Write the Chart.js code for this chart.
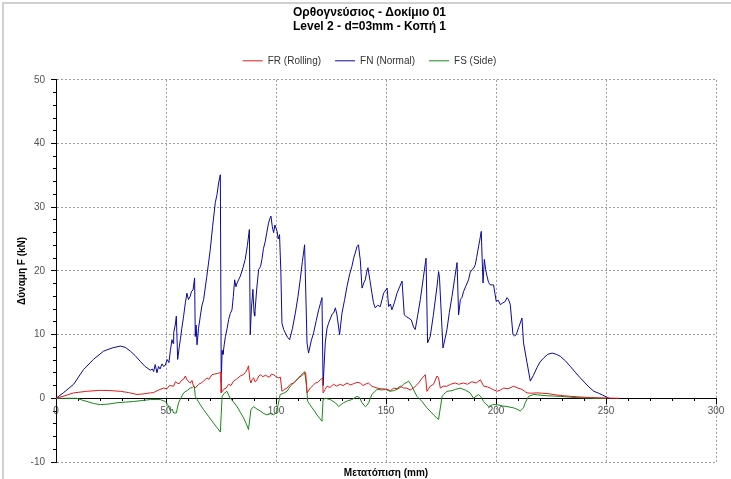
<!DOCTYPE html>
<html>
<head>
<meta charset="utf-8">
<title>Ορθογνεύσιος - Δοκίμιο 01</title>
<script src="https://cdn.jsdelivr.net/npm/chart.js@4/dist/chart.umd.min.js"></script>
<style>
  html, body { margin: 0; padding: 0; background: #fff; }
  canvas { display: block; }
</style>
</head>
<body>
<canvas id="chart" width="731" height="479"></canvas>
<script>
// Displacement (mm) / force (kN) samples for each force component
const fnX = [0, 3.5, 8, 12.5, 17, 21.6, 25.5, 29.2, 31.5, 33.8, 36, 38.3, 40.5, 42.9, 43.8, 44.4, 45.1, 45.9, 46.6, 47.3, 48.2, 48.9, 49.7, 50.5, 51.3, 52, 52.7, 53.2, 53.5, 54.2, 54.7, 55.3, 56, 56.5, 57.2, 58, 58.8, 59.5, 60.2, 61, 61.6, 62.3, 63, 63.3, 63.7, 64.1, 64.8, 65.6, 66.3, 67.1, 68.5, 70.1, 71.2, 72.4, 73.2, 73.9, 74.7, 75.1, 75.5, 75.9, 76.5, 77, 77.8, 78.5, 79.2, 80, 80.6, 81.2, 81.8, 82.3, 83, 83.8, 85, 86, 87, 87.9, 88.3, 88.8, 89.5, 90, 90.3, 91.2, 92.1, 93, 93.6, 94.3, 95.1, 95.8, 96.6, 97.2, 97.7, 98.3, 98.9, 99.5, 100.5, 101, 101.6, 102.2, 102.7, 103.5, 104.2, 105.2, 106.2, 107.5, 108.8, 110, 111, 112, 113, 114.1, 114.8, 116, 117.1, 118.3, 119.4, 120.2, 120.9, 121.4, 122.4, 123.2, 123.9, 124.8, 125.5, 126.2, 127, 127.7, 128.9, 130, 131.2, 132.3, 133.5, 134.5, 135.3, 136, 136.8, 137.5, 138, 138.3, 139.1, 140, 140.6, 141.2, 141.8, 142.7, 143.6, 144.3, 145.1, 146.2, 147.4, 148.2, 148.9, 150.5, 151.2, 152, 152.7, 153.8, 155, 156.2, 157.3, 158.3, 159.3, 160.3, 161.5, 162.5, 163.3, 164.5, 165.6, 167, 168.2, 168.9, 170.1, 171.5, 173.2, 173.9, 174.3, 175.9, 176.8, 177.7, 178.8, 180, 181.2, 182.3, 183, 183.8, 184.5, 185.3, 186.4, 187.5, 188.3, 189.1, 190, 190.6, 191.2, 191.8, 192.6, 193.3, 193.7, 194.1, 194.7, 195.3, 195.9, 196.6, 197.4, 198.9, 199.5, 200.1, 201, 202, 203.2, 204.2, 205, 205.7, 206.5, 207.7, 208.5, 209.2, 210.3, 211.8, 212.5, 214.1, 215.6, 217, 218.6, 220, 221.6, 223.5, 225.5, 227.5, 229.2, 231.5, 233.8, 236, 238.3, 240.5, 242.8, 244.5, 246.6, 248.5, 250.5, 251.5];
const fnY = [0, 0.9, 2.2, 4.5, 6.1, 7.4, 7.9, 8.2, 8.0, 7.4, 6.7, 5.8, 5.0, 4.4, 4.6, 4.2, 5.3, 4.0, 5.0, 4.6, 5.4, 5.0, 5.2, 6.1, 5.6, 7.5, 9.2, 8.6, 10.3, 11.5, 12.9, 6.1, 8.0, 9.2, 11, 12.9, 15, 16.5, 15.5, 16, 16.8, 17, 18.9, 9.7, 11.5, 8.4, 11, 12.9, 14.5, 15.5, 19, 23.3, 27, 30.7, 32, 33.8, 35.1, 2.5, 7.5, 6.9, 8.5, 9.7, 11, 12.4, 13.3, 13.9, 16, 18.6, 17.5, 18.1, 18.6, 19.2, 20.5, 21.8, 24, 26.5, 10.0, 14, 17.1, 13.5, 12.9, 17, 20.2, 20.7, 21.8, 23.5, 24.6, 26, 27.5, 28.2, 28.6, 27, 26, 27.2, 26.2, 25, 25.7, 20, 11.8, 10.8, 10.3, 9.6, 9.2, 11, 13.4, 16, 18.6, 21.5, 24.1, 8.7, 7.1, 9, 10.3, 12.2, 13.9, 14.9, 15.8, 2.0, 8.7, 11, 11.8, 12.6, 13.2, 13.4, 14.2, 13.1, 10.0, 13.4, 15.5, 17.6, 19.5, 20.7, 22, 22.8, 23.8, 24.1, 22.5, 21.8, 17.3, 18.2, 18.6, 19.8, 20.5, 18.5, 16.5, 15, 14.2, 14.6, 14.4, 15.5, 16.5, 17.3, 14.4, 14.8, 13.9, 15, 16.5, 17.5, 18.4, 13.1, 12.8, 12.6, 12.3, 11.2, 10.8, 13.2, 15.5, 19, 22.0, 8.7, 9.7, 13, 17.6, 19.9, 19.0, 7.9, 9.3, 10.8, 13.5, 16.0, 18.8, 21.3, 13.1, 15.5, 15.8, 16.8, 17.7, 18.6, 19.8, 20.2, 20.5, 21.0, 22.1, 23.3, 24.8, 26.2, 22, 18.1, 21.8, 20.2, 19.2, 18.2, 17.8, 17.8, 16.5, 15.2, 15.4, 14.7, 15.0, 15.2, 15.8, 15.5, 14.7, 10, 9.8, 10, 11.1, 12.6, 8.7, 5.6, 2.7, 3.6, 4.8, 5.7, 6.3, 6.9, 7.1, 6.9, 6.6, 5.9, 5.0, 4.1, 3.2, 2.4, 1.6, 1.1, 0.8, 0.5, 0.15, 0];

const frX = [0, 4, 8, 14, 20.1, 25, 29.2, 33, 36.8, 40, 42.9, 44.4, 46, 48.9, 50.5, 51.5, 53.5, 54.3, 55, 56, 57, 58, 58.8, 59.5, 61, 61.8, 62.5, 63.3, 64.8, 66, 67.1, 68.6, 69.5, 70.9, 72, 73.5, 75, 75.1, 76.2, 77.3, 78.5, 79.5, 80.7, 82, 83.8, 85, 86, 87, 87.5, 88.1, 88.6, 89.2, 89.8, 90.5, 91.4, 92.2, 92.9, 94, 95.2, 95.9, 97, 98, 98.9, 100, 101.2, 102, 102.7, 103.8, 105, 106.5, 108, 109.5, 110.3, 111.5, 112.5, 113.5, 114.1, 115.6, 116.8, 117.9, 119, 120.1, 121.2, 121.4, 122.3, 123.2, 124.5, 126.2, 127.5, 129.2, 130.5, 132.3, 133.8, 135.3, 136.8, 138.3, 139.5, 140.6, 142, 143.6, 145.9, 148, 150.5, 152, 153.5, 155, 156.5, 158, 159.5, 161, 162.5, 164.8, 166.5, 167.9, 168.6, 170.1, 171.6, 173.2, 173.9, 174.7, 176, 177.7, 179.3, 181.5, 183, 185.3, 187, 189, 191, 192.9, 194.4, 196, 197.4, 199, 200.5, 202, 203.5, 205.5, 208, 210, 211.8, 213, 214.1, 216, 218.6, 221, 223.2, 227, 230.7, 234, 238.3, 243, 248, 252, 256];
const frY = [0, 0.4, 0.85, 1.1, 1.25, 1.2, 1.1, 0.9, 0.6, 0.7, 0.85, 0.9, 1.2, 1.6, 1.5, 2.0, 1.9, 2.6, 2.4, 2.3, 2.8, 3.0, 3.5, 2.9, 2.4, 2.8, 1.9, 1.6, 2.2, 2.4, 2.7, 3.2, 3.0, 3.7, 3.8, 3.9, 4.1, 0.85, 1.4, 1.6, 2.2, 2.0, 2.7, 3.0, 3.5, 3.7, 4.0, 4.6, 5.1, 3.0, 2.4, 3.0, 3.2, 2.6, 2.9, 3.5, 3.7, 3.4, 3.6, 3.5, 3.3, 3.8, 3.7, 3.4, 3.2, 3.3, 1.1, 1.4, 1.6, 2.2, 2.4, 2.9, 3.2, 3.5, 3.8, 4.0, 0.85, 1.6, 2.0, 2.4, 2.5, 2.9, 3.2, 0.85, 1.4, 1.9, 1.7, 2.2, 1.9, 2.2, 2.0, 2.4, 2.1, 2.3, 2.5, 2.4, 2.0, 2.2, 2.4, 1.9, 1.6, 1.5, 1.4, 1.2, 1.6, 1.5, 1.9, 1.6, 1.6, 1.3, 1.6, 2.4, 3.2, 3.7, 1.1, 1.9, 2.2, 3.5, 3.2, 1.6, 1.9, 1.9, 2.2, 2.4, 2.2, 2.4, 2.2, 2.6, 2.4, 2.9, 1.9, 1.8, 1.6, 1.3, 1.1, 1.3, 1.6, 1.5, 1.9, 1.6, 1.4, 1.1, 0.85, 0.8, 0.85, 0.8, 0.75, 0.55, 0.4, 0.3, 0.2, 0.12, 0.06, 0.03, 0];

const fsX = [0, 5, 9.5, 12, 14.1, 17, 20.1, 24, 27.7, 31.5, 35.3, 39, 42.9, 45, 47.4, 49.7, 50.8, 52, 52.8, 53.5, 54.7, 55.7, 57, 58, 59.5, 61, 62, 62.9, 63.3, 65, 67.1, 69.5, 71.6, 73.2, 74.7, 75.1, 75.5, 76.5, 77.7, 78.5, 79.2, 80.5, 82.3, 83.8, 85.3, 86.5, 87.5, 88.6, 89.8, 91.4, 92.9, 94.5, 95.9, 97.5, 98.9, 100, 101, 101.9, 103.5, 105, 106.5, 108, 109.5, 111, 112.5, 113, 113.9, 114.4, 115.4, 116.4, 117.5, 118.6, 119.8, 120.9, 121.4, 122.4, 123.5, 124.7, 126, 127, 128.5, 129.5, 130.7, 132.5, 134.5, 136.8, 138, 139.1, 140.6, 141.3, 142.1, 143.6, 145.9, 148, 149.7, 151.9, 153.5, 155, 156.5, 158, 160.3, 161.8, 163, 164.1, 166.4, 168.6, 170, 171.6, 172.8, 173.9, 175.5, 176.2, 177.7, 180, 181.5, 183.8, 186, 188.2, 189.8, 192, 193, 194.4, 196.6, 198.5, 200.5, 203, 205, 208, 209.5, 211, 212.5, 213.3, 214.8, 217.1, 220, 223.2, 226, 229.2, 233, 237, 241, 245, 250];
const fsY = [0, 0, 0, -0.3, -0.5, -0.8, -1.0, -0.9, -0.7, -0.6, -0.5, -0.35, -0.2, -0.2, -0.2, -0.5, -1.0, -2.0, -1.7, -2.3, -2.3, -0.7, 0.2, 0.85, 1.2, 1.6, 1.7, 1.9, 0.3, -0.7, -1.8, -2.9, -3.9, -4.6, -5.3, -2.5, 0.3, 0.8, 1.1, 0.5, 0, -0.5, -1.3, -2.2, -3.1, -4.0, -4.9, -1.8, -1.3, -1.7, -2.0, -2.4, -2.6, -2.4, -2.6, -2.3, -1.0, 0.6, 0.8, 1.1, 1.9, 2.4, 2.9, 3.5, 4.0, 4.2, 1.9, -0.5, -1.0, -1.5, -2.0, -2.6, -3.1, -3.6, -0.2, 0, -0.1, -0.2, -0.5, -0.7, -1.3, -1.0, -0.7, -0.4, -0.2, 0.3, 0.1, -0.7, -1.3, -1.1, -0.7, 0.6, 1.4, 1.3, 1.4, 1.1, 1.2, 1.4, 1.7, 2.2, 2.7, 1.9, 1.0, 0.3, -0.5, -1.5, -2.0, -2.6, -3.0, -3.3, 0.3, 0.6, 1.1, 1.2, 1.4, 1.6, 1.3, 0.85, 0, 0.6, 0.3, -0.5, -1.3, -1.0, -1.0, -1.2, -1.3, -1.5, -1.7, -2.0, -1.5, -0.7, 0.3, 0.6, 0.5, 0.4, 0.35, 0.3, 0.2, 0.1, 0.05, 0, 0];

const titleLines = ['Ορθογνεύσιος - Δοκίμιο 01', 'Level 2 - d=03mm - Κοπή 1'];
const xTicks = { min: 0, max: 300, step: 50, minorStep: 10 };
const yTicks = { min: -10, max: 50, step: 10, minorStep: 2 };

const toPoints = (xs, ys) => xs.map((x, i) => ({ x, y: ys[i] }));

Chart.defaults.font.family = '"Liberation Sans", Arial, sans-serif';
Chart.defaults.font.size = 10;

// dotted grey grid, skipped on the zero lines where the black axes sit
const gridColor = (ctx) => (ctx.tick && ctx.tick.value === 0 ? 'rgba(0,0,0,0)' : '#9a9a9a');

// thin grey frame along the top and left edges
const chartFrame = {
    id: 'chartFrame',
    beforeDraw(chart) {
        const ctx = chart.ctx;
        ctx.save();
        ctx.strokeStyle = '#d0d0d0';
        ctx.lineWidth = 2;
        ctx.beginPath();
        ctx.moveTo(3, chart.height);
        ctx.lineTo(3, 3);
        ctx.lineTo(chart.width, 3);
        ctx.stroke();
        ctx.restore();
    }
};

// a little more room between the legend and the plot
const legendGap = {
    id: 'legendGap',
    beforeInit(chart) {
        const fit = chart.legend.fit;
        chart.legend.fit = function () {
            fit.call(this);
            this.height += 4;
        };
    }
};

const lineSet = (label, color, xs, ys) => ({
    label,
    data: toPoints(xs, ys),
    borderColor: color,
    backgroundColor: color,
    borderWidth: 1,
    pointRadius: 0,
    tension: 0,
    xAxisID: 'x',
    yAxisID: 'y'
});

// empty axis whose only job is keeping a margin right of the plot
const spacerAxis = (position, size) => ({
    type: 'linear',
    position,
    ticks: { display: false },
    grid: { display: false, drawTicks: false },
    border: { display: false },
    afterFit: (scale) => { scale.width = size; }
});

new Chart(document.getElementById('chart'), {
    type: 'line',
    data: {
        datasets: [
            lineSet('FR (Rolling)', '#dd1c1c', frX, frY),
            lineSet('FN (Normal)', '#0a0a9c', fnX, fnY),
            lineSet('FS (Side)', '#178a17', fsX, fsY)
        ]
    },
    options: {
        responsive: false,
        animation: false,
        layout: { padding: { top: 0, right: 0, bottom: 0, left: 8 } },
        plugins: {
            title: {
                display: true,
                text: titleLines,
                color: '#000',
                font: { size: 12, weight: 'bold' },
                padding: { top: 5, bottom: 8 }
            },
            legend: {
                labels: {
                    usePointStyle: true,
                    pointStyle: 'line',
                    pointStyleWidth: 20,
                    color: '#333',
                    font: { size: 10 },
                    padding: 14
                }
            },
            tooltip: { enabled: false }
        },
        scales: {
            x: {
                type: 'linear',
                position: { y: 0 },
                min: xTicks.min,
                max: xTicks.max,
                ticks: { stepSize: xTicks.step, color: '#555', padding: 2 },
                grid: { color: gridColor, tickColor: '#000', tickLength: 5 },
                border: { color: '#000', width: 1, dash: [2, 2] }
            },
            xMinor: {
                type: 'linear',
                position: { y: 0 },
                min: xTicks.min,
                max: xTicks.max,
                ticks: { stepSize: xTicks.minorStep, display: false },
                grid: { drawOnChartArea: false, tickColor: '#000', tickLength: 3 },
                border: { display: false }
            },
            xTitle: {
                type: 'linear',
                position: 'bottom',
                min: xTicks.min,
                max: xTicks.max,
                ticks: { display: false },
                grid: { display: false, drawTicks: false },
                border: { display: false },
                title: {
                    display: true,
                    text: 'Μετατόπιση (mm)',
                    color: '#000',
                    font: { size: 10, weight: 'bold' },
                    padding: { top: 0, bottom: 0 }
                },
                afterFit: (scale) => { scale.height = 17; }
            },
            y: {
                type: 'linear',
                position: 'left',
                min: yTicks.min,
                max: yTicks.max,
                ticks: { stepSize: yTicks.step, color: '#555', padding: 6 },
                grid: { color: gridColor, tickColor: '#000', tickLength: 5 },
                border: { color: '#000', width: 1, dash: [2, 2] },
                title: {
                    display: true,
                    text: 'Δύναμη F (kN)',
                    color: '#000',
                    font: { size: 10, weight: 'bold' },
                    padding: { top: 8, bottom: 0 }
                },
                afterFit: (scale) => { scale.width = 48; }
            },
            yMinor: {
                type: 'linear',
                position: { x: 0 },
                min: yTicks.min,
                max: yTicks.max,
                ticks: { stepSize: yTicks.minorStep, display: false },
                grid: { drawOnChartArea: false, tickColor: '#000', tickLength: 3 },
                border: { display: false }
            },
            yRight: spacerAxis('right', 15)
        }
    },
    plugins: [chartFrame, legendGap]
});
</script>
</body>
</html>
